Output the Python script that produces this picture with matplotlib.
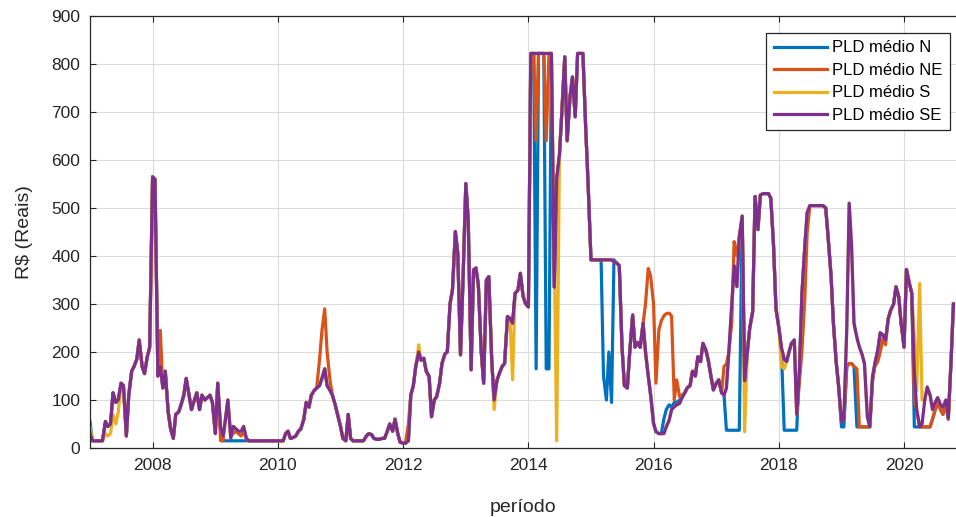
import matplotlib.pyplot as plt
import matplotlib.dates as mdates
import pandas as pd

plt.rcParams['font.family'] = ['Liberation Sans', 'DejaVu Sans']

# PLD médio quinzenal por submercado (R$/MWh), jan/2007 a out/2020
pld_n = [
    55, 15, 15, 15, 15, 15, 55, 45, 50, 115, 95, 100, 135, 130, 25, 110, 160, 170, 185, 225, 170, 155, 190, 210,  # 2007
    565, 560, 150, 170, 125, 160, 75, 40, 20, 70, 75, 90, 110, 145, 110, 80, 100, 115, 80, 110, 100, 105, 110, 95,  # 2008
    30, 135, 40, 15, 15, 15, 15, 15, 15, 15, 15, 15, 15, 15, 15, 15, 15, 15, 15, 15, 15, 15, 15, 15,  # 2009
    15, 15, 15, 30, 35, 20, 22, 25, 35, 40, 60, 95, 85, 110, 120, 125, 130, 145, 165, 130, 120, 110, 90, 70,  # 2010
    45, 20, 15, 70, 20, 15, 15, 15, 15, 15, 25, 30, 28, 20, 18, 18, 20, 20, 35, 50, 35, 60, 30, 12,  # 2011
    10, 10, 15, 110, 130, 170, 200, 183, 187, 160, 149, 65, 100, 107, 135, 176, 196, 200, 301, 329, 451, 406, 194, 343,  # 2012
    551, 475, 163, 371, 375, 340, 200, 135, 350, 357, 183, 100, 140, 155, 170, 176, 274, 270, 260, 322, 329, 364, 316, 301,  # 2013
    294, 822, 822, 165, 822, 822, 822, 165, 165, 822, 335, 560, 610, 700, 815, 640, 733, 773, 690, 822, 822, 822, 668, 552,  # 2014
    392, 392, 392, 392, 392, 150, 100, 200, 95, 392, 385, 380, 210, 130, 125, 200, 277, 210, 220, 210, 260, 200, 150, 110,  # 2015
    51, 34, 30, 30, 60, 80, 90, 85, 95, 95, 100, 105, 115, 125, 130, 160, 150, 190, 180, 218, 204, 183, 149, 121,  # 2016
    135, 142, 115, 110, 37, 37, 37, 37, 37, 37, 483, 140, 200, 250, 284, 524, 455, 527, 530, 530, 530, 520, 420, 290,  # 2017
    250, 210, 37, 37, 37, 37, 37, 37, 170, 320, 420, 490, 505, 505, 505, 505, 505, 505, 500, 440, 360, 260, 180, 130,  # 2018
    44, 44, 170, 176, 176, 170, 44, 44, 44, 44, 44, 44, 140, 176, 204, 240, 235, 225, 270, 287, 300, 336, 315, 260,  # 2019
    210, 372, 343, 322, 44, 44, 44, 44, 44, 44, 44, 60, 80, 95, 80, 70, 95, 60, 180, 300,  # 2020
]

pld_ne = [
    30, 15, 15, 15, 15, 15, 55, 45, 50, 115, 95, 100, 135, 130, 25, 110, 160, 170, 185, 225, 170, 155, 190, 210,  # 2007
    565, 560, 150, 245, 125, 160, 75, 40, 20, 70, 75, 90, 110, 145, 110, 80, 100, 115, 80, 110, 100, 105, 110, 95,  # 2008
    30, 135, 15, 15, 60, 100, 25, 30, 35, 30, 25, 35, 20, 15, 15, 15, 15, 15, 15, 15, 15, 15, 15, 15,  # 2009
    15, 15, 15, 30, 35, 20, 22, 25, 35, 40, 60, 95, 85, 110, 120, 125, 185, 245, 290, 200, 140, 110, 90, 70,  # 2010
    45, 20, 15, 70, 20, 15, 15, 15, 15, 15, 25, 30, 28, 20, 18, 18, 20, 20, 35, 50, 35, 60, 30, 12,  # 2011
    10, 10, 50, 110, 130, 170, 200, 183, 187, 160, 149, 65, 100, 107, 135, 176, 196, 200, 301, 329, 451, 406, 194, 343,  # 2012
    551, 475, 163, 371, 375, 340, 200, 135, 350, 357, 183, 100, 140, 155, 170, 176, 274, 270, 260, 322, 329, 364, 316, 301,  # 2013
    294, 822, 822, 640, 822, 822, 822, 640, 822, 822, 335, 560, 610, 700, 815, 640, 733, 773, 690, 822, 822, 822, 668, 552,  # 2014
    392, 392, 392, 392, 392, 392, 392, 392, 392, 388, 385, 380, 210, 130, 125, 200, 277, 210, 220, 210, 260, 300, 374, 358,  # 2015
    300, 135, 246, 265, 275, 280, 281, 275, 100, 142, 107, 110, 115, 125, 130, 160, 150, 190, 180, 218, 204, 183, 149, 121,  # 2016
    135, 142, 115, 170, 175, 200, 260, 430, 400, 440, 483, 140, 200, 250, 284, 524, 455, 527, 530, 530, 530, 520, 420, 290,  # 2017
    250, 210, 185, 180, 200, 218, 225, 70, 140, 200, 310, 450, 505, 505, 505, 505, 505, 505, 500, 440, 360, 260, 180, 130,  # 2018
    55, 60, 170, 176, 176, 170, 165, 44, 44, 44, 44, 44, 140, 170, 180, 200, 230, 215, 270, 287, 300, 336, 315, 260,  # 2019
    210, 372, 343, 322, 100, 79, 44, 44, 44, 44, 44, 60, 80, 95, 80, 70, 95, 60, 180, 300,  # 2020
]

pld_s = [
    45, 15, 15, 15, 15, 15, 30, 25, 30, 70, 50, 75, 135, 130, 25, 110, 160, 170, 185, 225, 170, 155, 190, 210,  # 2007
    565, 560, 150, 170, 125, 160, 75, 40, 20, 70, 75, 90, 110, 145, 110, 80, 100, 115, 80, 110, 100, 105, 110, 95,  # 2008
    30, 135, 40, 25, 60, 100, 20, 45, 40, 35, 35, 45, 20, 15, 15, 15, 15, 15, 15, 15, 15, 15, 15, 15,  # 2009
    15, 15, 15, 30, 35, 20, 22, 25, 35, 40, 60, 95, 85, 110, 120, 125, 130, 145, 165, 130, 120, 110, 90, 70,  # 2010
    45, 20, 15, 70, 20, 15, 15, 15, 15, 15, 25, 30, 28, 20, 18, 18, 20, 20, 35, 50, 35, 60, 30, 12,  # 2011
    10, 10, 15, 110, 130, 170, 215, 183, 187, 160, 149, 65, 100, 107, 135, 176, 196, 200, 301, 329, 451, 406, 194, 343,  # 2012
    551, 475, 163, 371, 375, 340, 200, 135, 350, 357, 183, 80, 140, 155, 170, 176, 274, 270, 142, 322, 329, 364, 316, 301,  # 2013
    294, 822, 822, 822, 822, 822, 822, 822, 822, 822, 400, 15, 610, 700, 815, 640, 733, 773, 690, 822, 822, 822, 668, 552,  # 2014
    392, 392, 392, 392, 392, 392, 392, 392, 392, 388, 385, 380, 210, 130, 125, 200, 277, 210, 220, 210, 260, 200, 150, 110,  # 2015
    51, 34, 30, 30, 30, 44, 58, 80, 86, 90, 93, 105, 115, 125, 130, 160, 150, 190, 180, 218, 204, 183, 149, 121,  # 2016
    135, 142, 115, 110, 125, 200, 300, 380, 336, 440, 483, 34, 200, 250, 284, 524, 455, 527, 530, 530, 530, 520, 420, 290,  # 2017
    250, 170, 165, 180, 200, 218, 225, 70, 160, 320, 420, 490, 505, 505, 505, 505, 505, 505, 500, 440, 360, 260, 180, 130,  # 2018
    55, 60, 250, 510, 420, 260, 230, 211, 195, 176, 65, 44, 149, 176, 204, 240, 235, 225, 270, 287, 300, 336, 315, 260,  # 2019
    210, 372, 343, 322, 232, 120, 343, 100, 100, 127, 110, 80, 95, 105, 90, 85, 100, 62, 180, 300,  # 2020
]

pld_se = [
    30, 15, 15, 15, 15, 15, 55, 45, 50, 115, 95, 100, 135, 130, 25, 110, 160, 170, 185, 225, 170, 155, 190, 210,  # 2007
    565, 560, 150, 170, 125, 160, 75, 40, 20, 70, 75, 90, 110, 145, 110, 80, 100, 115, 80, 110, 100, 105, 110, 95,  # 2008
    30, 135, 40, 25, 60, 100, 20, 45, 40, 35, 35, 45, 20, 15, 15, 15, 15, 15, 15, 15, 15, 15, 15, 15,  # 2009
    15, 15, 15, 30, 35, 20, 22, 25, 35, 40, 60, 95, 85, 110, 120, 125, 130, 145, 165, 130, 120, 110, 90, 70,  # 2010
    45, 20, 15, 70, 20, 15, 15, 15, 15, 15, 25, 30, 28, 20, 18, 18, 20, 20, 35, 50, 35, 60, 30, 12,  # 2011
    10, 10, 15, 110, 130, 170, 200, 183, 187, 160, 149, 65, 100, 107, 135, 176, 196, 200, 301, 329, 451, 406, 194, 343,  # 2012
    551, 475, 163, 371, 375, 340, 200, 135, 350, 357, 183, 100, 140, 155, 170, 176, 274, 270, 260, 322, 329, 364, 316, 301,  # 2013
    294, 822, 822, 822, 822, 822, 822, 822, 822, 822, 335, 560, 610, 700, 815, 640, 733, 773, 690, 822, 822, 822, 668, 552,  # 2014
    392, 392, 392, 392, 392, 392, 392, 392, 392, 388, 385, 380, 210, 130, 125, 200, 277, 210, 220, 210, 260, 200, 150, 110,  # 2015
    51, 34, 30, 30, 30, 44, 58, 80, 86, 90, 93, 105, 115, 125, 130, 160, 150, 190, 180, 218, 204, 183, 149, 121,  # 2016
    135, 142, 115, 110, 125, 200, 300, 380, 336, 440, 483, 140, 200, 250, 284, 524, 455, 527, 530, 530, 530, 520, 420, 290,  # 2017
    250, 210, 185, 180, 200, 218, 225, 70, 160, 320, 420, 490, 505, 505, 505, 505, 505, 505, 500, 440, 360, 260, 180, 130,  # 2018
    55, 60, 250, 510, 420, 260, 230, 211, 195, 176, 65, 44, 149, 176, 204, 240, 235, 225, 270, 287, 300, 336, 315, 260,  # 2019
    210, 372, 343, 322, 160, 79, 44, 50, 100, 127, 110, 80, 95, 105, 90, 85, 100, 62, 180, 300,  # 2020
]

legendas = ['PLD médio N', 'PLD médio NE', 'PLD médio S', 'PLD médio SE']
cores = ['#0072BD', '#D95319', '#EDB120', '#7E2F8E']

datas = pd.date_range('2007-01-01', periods=len(pld_se), freq='SMS')

fig = plt.figure(figsize=(9.56, 5.17), dpi=100)
ax = fig.add_axes([90 / 956, 69 / 517, 866 / 956, 432 / 517])

for serie, nome, cor in zip([pld_n, pld_ne, pld_s, pld_se], legendas, cores):
    ax.plot(datas, serie, color=cor, linewidth=2.3, label=nome)

ax.set_xlim(pd.Timestamp('2007-01-01'), pd.Timestamp('2020-10-30'))
ax.set_ylim(0, 900)
ax.set_yticks(range(0, 901, 100))
ax.xaxis.set_major_locator(mdates.YearLocator(2))
ax.xaxis.set_major_formatter(mdates.DateFormatter('%Y'))

ax.grid(True, color='#dcdcdc', linewidth=0.8)
ax.set_axisbelow(True)
ax.tick_params(direction='in', length=4, top=True, right=False,
               labelsize=12.5, colors='#262626', pad=7)
ax.spines['right'].set_visible(False)
for lado in ['left', 'bottom', 'top']:
    ax.spines[lado].set_color('#262626')
    ax.spines[lado].set_linewidth(0.9)

ax.set_xlabel('período', fontsize=14, color='#262626', labelpad=19)
ax.set_ylabel('R\\$ (Reais)', fontsize=14, color='#262626', labelpad=13)

leg = ax.legend(loc='upper right', bbox_to_anchor=(0.993, 0.961), borderaxespad=0,
                fancybox=False, edgecolor='#262626', framealpha=1, fontsize=12,
                handlelength=3.2, handletextpad=0.3, labelspacing=0.45, borderpad=0.45)
leg.get_frame().set_linewidth(0.9)

fig.savefig('out.png', dpi=100)
